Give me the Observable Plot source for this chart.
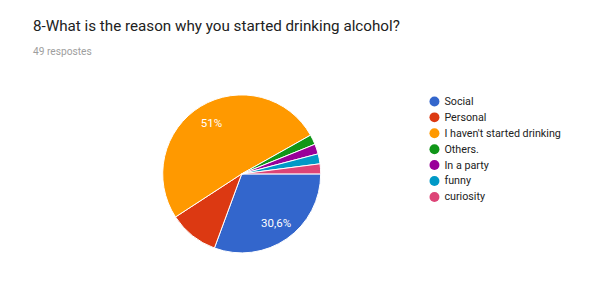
<!DOCTYPE html>
<html><head><meta charset="utf-8">
<script src="https://cdn.jsdelivr.net/npm/d3@7"></script>
<script src="https://cdn.jsdelivr.net/npm/@observablehq/plot@0.6"></script>
<style>
html,body{margin:0;padding:0;background:#fff;}
#root{position:relative;width:609px;height:293px;overflow:hidden;font-family:Roboto,sans-serif;}
#title{position:absolute;left:33px;top:17px;font-size:15.2px;line-height:18px;color:#212121;white-space:nowrap;}
#sub{position:absolute;left:33px;top:45px;font-size:10.2px;line-height:13px;color:#9e9e9e;white-space:nowrap;}
#pie{position:absolute;left:0;top:0;}
#legend{position:absolute;left:425px;top:90px;}
</style></head>
<body>
<div id="root">
  <div id="pie"></div>
  <div id="title">8-What is the reason why you started drinking alcohol?</div>
  <div id="sub">49 respostes</div>
  <div id="legend"></div>
</div>
<script>
const categories = ["Social", "Personal", "I haven't started drinking", "Others.", "In a party", "funny", "curiosity"];
const counts = [15, 5, 25, 1, 1, 1, 1];
const colors = ["#3366cc", "#dc3912", "#ff9900", "#109618", "#990099", "#0099c6", "#dd4477"];

const total = d3.sum(counts);
const rows = categories.map((c, i) => ({category: c, value: counts[i]}));
const arcs = d3.pie().sort(null).value(d => d.value)
  .startAngle(Math.PI / 2).endAngle(Math.PI / 2 + 2 * Math.PI)(rows);

const fmt = v => {
  const p = Math.round(v * 1000) / 10;
  return (Number.isInteger(p) ? String(p) : p.toFixed(1).replace(".", ",")) + "%";
};
const labels = arcs.filter(a => a.value / total >= 0.15).map(a => {
  const m = (a.startAngle + a.endAngle) / 2;
  return {x: 0.75 * Math.sin(m), y: 0.75 * Math.cos(m), text: fmt(a.value / total)};
});

// pie geometry in unit coordinates, placed via the x/y scales
const R = 79, CX = 241.7, CY = 173.9, W = 609, H = 293;

function wedges(index, scales) {
  const cx = scales.x(0), cy = scales.y(0), r = scales.x(1) - cx;
  const color = scales.color || d3.scaleOrdinal(categories, colors);
  const arc = d3.arc().innerRadius(0).outerRadius(r);
  const g = d3.create("svg:g").attr("transform", `translate(${cx},${cy})`);
  g.selectAll("path").data(arcs).join("path")
    .attr("d", arc)
    .attr("fill", d => color(d.data.category))
    .attr("stroke", "#fff")
    .attr("stroke-width", 1)
    .attr("stroke-linejoin", "round");
  return g.node();
}

const pie = Plot.plot({
  width: W, height: H, margin: 0,
  style: {background: "transparent", fontFamily: "Roboto, sans-serif"},
  x: {domain: [-CX / R, (W - CX) / R], axis: null},
  y: {domain: [-(H - CY) / R, CY / R], axis: null},
  color: {domain: categories, range: colors},
  marks: [
    wedges,
    Plot.text(labels, {x: "x", y: "y", text: "text", fill: "#fff", fontSize: 11.5})
  ]
});
document.getElementById("pie").appendChild(pie);

const legend = Plot.plot({
  width: 185, height: 120, margin: 0,
  style: {background: "transparent", fontFamily: "Roboto, sans-serif"},
  y: {type: "point", domain: categories, range: [9.3, 109.3], padding: 0, axis: null},
  color: {domain: categories, range: colors},
  marks: [
    Plot.dot(categories, {y: d => d, fill: d => d, r: 5, frameAnchor: "left", dx: 9}),
    Plot.text(categories, {y: d => d, text: d => d, frameAnchor: "left", dx: 19, textAnchor: "start", fill: "#222", fontSize: 10.8})
  ]
});
document.getElementById("legend").appendChild(legend);
</script>
</body></html>
